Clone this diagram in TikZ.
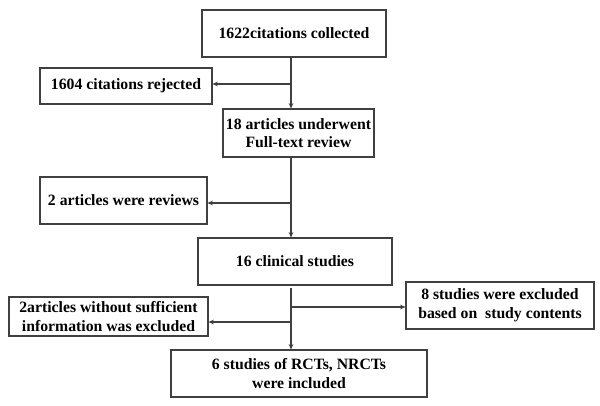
\documentclass[tikz,border=0pt]{standalone}
\usepackage{fontspec}
\setmainfont{Liberation Serif}
\usetikzlibrary{positioning,arrows.meta}

\begin{document}
\begin{tikzpicture}[x=0.75pt,y=-0.75pt,
  flowbox/.style 2 args={draw=black!75, line width=0.8pt, inner sep=0pt, align=center,
    minimum width=#1*0.75pt, minimum height=#2*0.75pt,
    font=\fontsize{11.8}{14}\selectfont\bfseries},
  flowline/.style={draw=black!75, line width=0.8pt},
  flowarrow/.style={flowline, -{Stealth[length=4pt,width=3.5pt]}}]
\useasboundingbox (0,0) rectangle (600,406);
% boxes down the middle
\node[flowbox={184}{47}] (collected) at (294,33.5) {1622citations collected};
\node[flowbox={151}{48}] (fulltext) at (298.5,133) {18 articles underwent\\Full-text review};
\node[flowbox={194}{47}] (clinical) at (295,261.5) {16 clinical studies};
\node[flowbox={256}{47}] (included) at (299,373.5) {6 studies of RCTs, NRCTs\\were included};
% boxes to the sides
\node[flowbox={172}{36}] (rejected) at (126,86) {1604 citations rejected};
\node[flowbox={167}{47}] (reviews) at (123.5,200.5) {2 articles were reviews};
\node[flowbox={199}{39}] (noinfo) at (108.5,316.5) {2articles without sufficient\\information was excluded};
\node[flowbox={188}{47}] (contents) at (500,305.5) {8 studies were excluded\\based on~~study contents};
% branch points on the spine
\coordinate (j1) at (291,84);
\coordinate (j2) at (291,203);
\coordinate (j3) at (291,307);
\coordinate (j4) at (291,322);
% connectors
\draw[flowarrow] (collected.south -| j1) -- (fulltext.north -| j1);
\draw[flowarrow] (j1) -- (j1 -| rejected.east);
\draw[flowarrow] (fulltext.south -| j2) -- (clinical.north -| j2);
\draw[flowarrow] (j2) -- (j2 -| reviews.east);
\draw[flowarrow] ([yshift=-2pt]clinical.south -| j3) -- (included.north -| j3);
\draw[flowarrow] (j3) -- (j3 -| contents.west);
\draw[flowarrow] (j4) -- (j4 -| noinfo.east);
\end{tikzpicture}
\end{document}
